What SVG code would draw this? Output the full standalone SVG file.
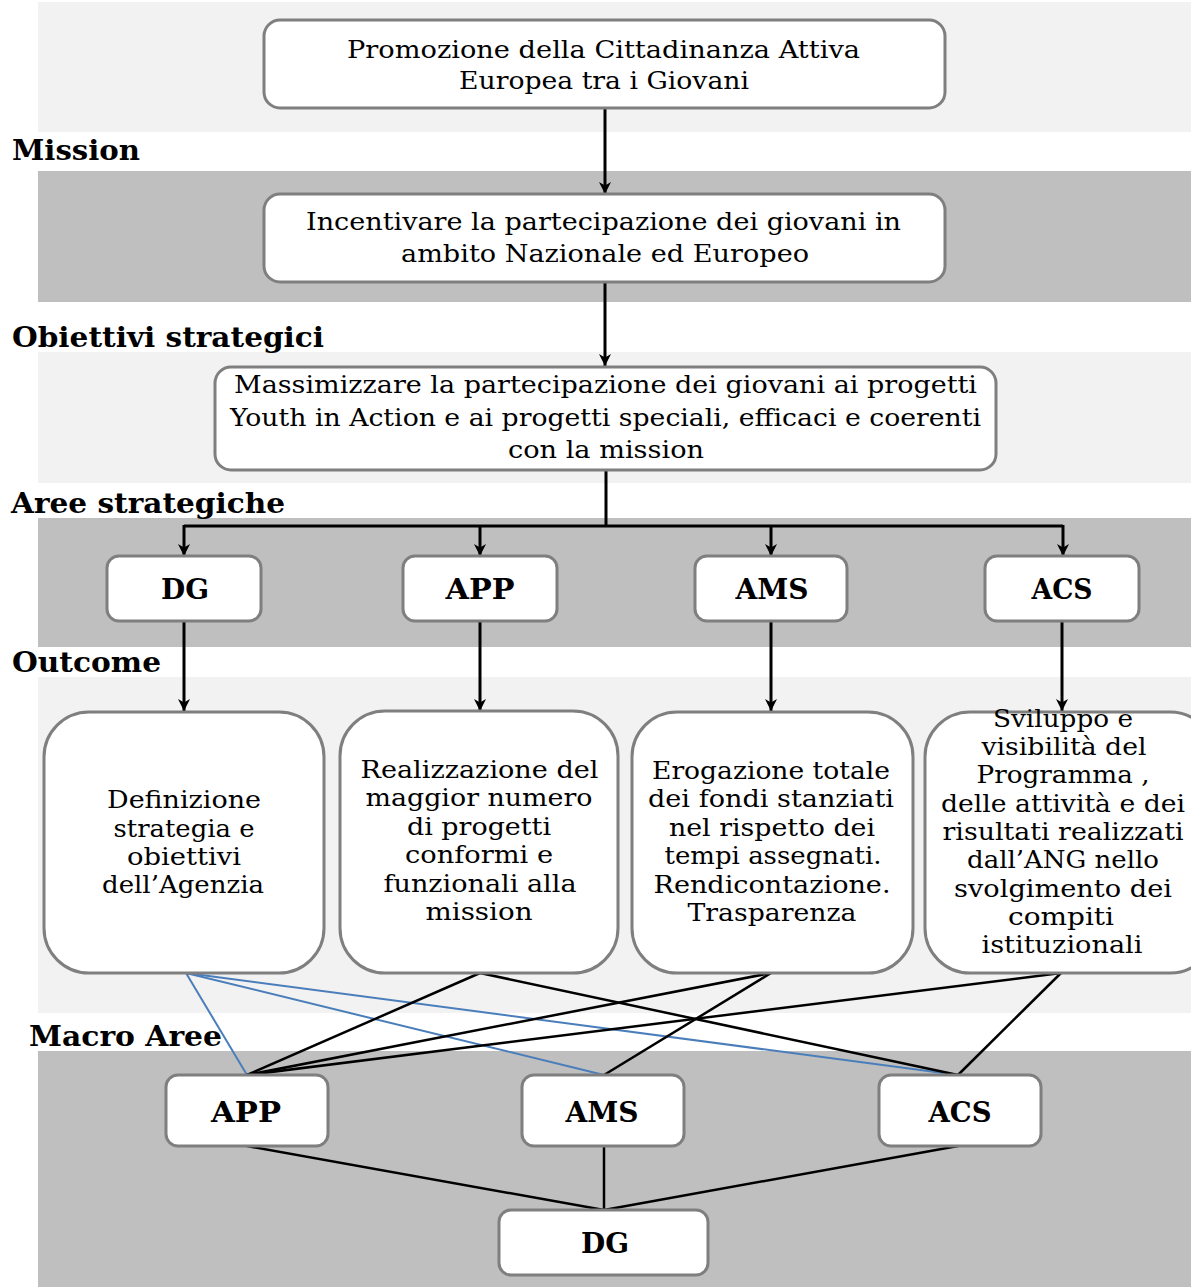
<svg xmlns="http://www.w3.org/2000/svg" width="1191" height="1287" viewBox="0 0 1191 1287">
<style>
.bandL{fill:#f2f2f2}
.bandD{fill:#bfbfbf}
.box{fill:#ffffff;stroke:#7f7f7f;stroke-width:3}
text{lengthAdjust:spacingAndGlyphs}
.lbl{font-family:"DejaVu Serif","Liberation Serif",serif;font-weight:bold;font-size:28px;fill:#000}
.t{font-family:"DejaVu Serif","Liberation Serif",serif;font-size:24px;fill:#000;text-anchor:middle}
.tt{font-family:"DejaVu Serif","Liberation Serif",serif;font-size:25px;fill:#000;text-anchor:middle}
.b{font-family:"DejaVu Serif","Liberation Serif",serif;font-weight:bold;font-size:27px;fill:#000;text-anchor:middle}
.arr{stroke:#000;stroke-width:3;fill:none;marker-end:url(#ah)}
.ln{stroke:#000;stroke-width:2.5;fill:none}
.bl{stroke:#4a7ebb;stroke-width:2;fill:none}
</style>
<defs>
<marker id="ah" viewBox="0 0 10 10" markerWidth="12" markerHeight="12" markerUnits="userSpaceOnUse" refX="10" refY="5" orient="auto">
<path d="M0,0 L10,5 L0,10 L3,5 z" fill="#000"/>
</marker>
</defs>
<rect width="1191" height="1287" fill="#ffffff"/>
<g id="bands">
<rect class="bandL" x="38" y="2" width="1153" height="130"/>
<rect class="bandD" x="38" y="171" width="1153" height="131"/>
<rect class="bandL" x="38" y="352" width="1153" height="131"/>
<rect class="bandD" x="38" y="518" width="1153" height="129"/>
<rect class="bandL" x="38" y="677" width="1153" height="336"/>
<rect class="bandD" x="38" y="1051" width="1153" height="236"/>
</g>
<g id="labels">
<text class="lbl" x="12" y="160" textLength="128" lengthAdjust="spacingAndGlyphs">Mission</text>
<text class="lbl" x="12" y="347" textLength="312" lengthAdjust="spacingAndGlyphs">Obiettivi strategici</text>
<text class="lbl" x="11" y="513" textLength="274" lengthAdjust="spacingAndGlyphs">Aree strategiche</text>
<text class="lbl" x="12" y="672" textLength="149" lengthAdjust="spacingAndGlyphs">Outcome</text>
<text class="lbl" x="29" y="1046" textLength="193" lengthAdjust="spacingAndGlyphs">Macro Aree</text>
</g>
<g id="connectors">
<line class="arr" x1="605" y1="108" x2="605" y2="194"/>
<line class="arr" x1="605" y1="282" x2="605" y2="366"/>
<polyline class="ln" style="stroke-width:3" points="606,470 606,527"/>
<line class="ln" style="stroke-width:3" x1="184" y1="526" x2="1063" y2="526"/>
<line class="arr" x1="184" y1="525" x2="184" y2="556"/>
<line class="arr" x1="480" y1="525" x2="480" y2="556"/>
<line class="arr" x1="771" y1="525" x2="771" y2="556"/>
<line class="arr" x1="1063" y1="525" x2="1063" y2="556"/>
<line class="arr" x1="184" y1="621" x2="184" y2="711"/>
<line class="arr" x1="480" y1="621" x2="480" y2="711"/>
<line class="arr" x1="771" y1="621" x2="771" y2="711"/>
<line class="arr" x1="1062" y1="621" x2="1062" y2="711"/>
<line class="bl" x1="186" y1="973" x2="247" y2="1075"/>
<line class="bl" x1="186" y1="973" x2="604" y2="1075"/>
<line class="bl" x1="186" y1="973" x2="958" y2="1075"/>
<line class="ln" x1="480" y1="973" x2="247" y2="1075"/>
<line class="ln" x1="480" y1="973" x2="958" y2="1075"/>
<line class="ln" x1="771" y1="973" x2="247" y2="1075"/>
<line class="ln" x1="771" y1="973" x2="604" y2="1075"/>
<line class="ln" x1="1061" y1="973" x2="247" y2="1075"/>
<line class="ln" x1="1061" y1="973" x2="958" y2="1075"/>
<line class="ln" x1="247" y1="1146" x2="604" y2="1210"/>
<line class="ln" x1="604" y1="1146" x2="604" y2="1210"/>
<line class="ln" x1="958" y1="1146" x2="604" y2="1210"/>
</g>
<g id="n-vision">
<rect class="box" x="264" y="20" width="681" height="88" rx="16"/>
<text class="tt" x="603.5" y="58" textLength="513" lengthAdjust="spacingAndGlyphs">Promozione della Cittadinanza Attiva</text>
<text class="tt" x="604" y="89" textLength="290" lengthAdjust="spacingAndGlyphs">Europea tra i Giovani</text>
</g>
<g id="n-mission">
<rect class="box" x="264" y="194" width="681" height="88" rx="16"/>
<text class="tt" x="603.5" y="230" textLength="595" lengthAdjust="spacingAndGlyphs">Incentivare la partecipazione dei giovani in</text>
<text class="tt" x="605" y="262" textLength="408" lengthAdjust="spacingAndGlyphs">ambito Nazionale ed Europeo</text>
</g>
<g id="n-obiettivi">
<rect class="box" x="215" y="367" width="781" height="103" rx="16"/>
<text class="tt" x="605.5" y="393" textLength="743" lengthAdjust="spacingAndGlyphs">Massimizzare la partecipazione dei giovani ai progetti</text>
<text class="tt" x="605.5" y="426" textLength="751" lengthAdjust="spacingAndGlyphs">Youth in Action e ai progetti speciali, efficaci e coerenti</text>
<text class="tt" x="606" y="458" textLength="196" lengthAdjust="spacingAndGlyphs">con la mission</text>
</g>
<g id="a-dg">
<rect class="box" x="107" y="556" width="154" height="65" rx="12"/>
<text class="b" x="185" y="599" textLength="48" lengthAdjust="spacingAndGlyphs">DG</text>
</g>
<g id="a-app">
<rect class="box" x="403" y="556" width="154" height="65" rx="12"/>
<text class="b" x="480" y="599" textLength="69" lengthAdjust="spacingAndGlyphs">APP</text>
</g>
<g id="a-ams">
<rect class="box" x="695" y="556" width="152" height="65" rx="12"/>
<text class="b" x="772" y="599" textLength="73" lengthAdjust="spacingAndGlyphs">AMS</text>
</g>
<g id="a-acs">
<rect class="box" x="985" y="556" width="154" height="65" rx="12"/>
<text class="b" x="1062" y="599" textLength="61" lengthAdjust="spacingAndGlyphs">ACS</text>
</g>
<g id="o-dg">
<rect class="box" x="44" y="712" width="280" height="261" rx="45"/>
<text class="t" x="184" y="808" textLength="154" lengthAdjust="spacingAndGlyphs">Definizione</text>
<text class="t" x="184" y="837" textLength="141" lengthAdjust="spacingAndGlyphs">strategia e</text>
<text class="t" x="184" y="865" textLength="114" lengthAdjust="spacingAndGlyphs">obiettivi</text>
<text class="t" x="183" y="893" textLength="162" lengthAdjust="spacingAndGlyphs">dell’Agenzia</text>
</g>
<g id="o-app">
<rect class="box" x="340" y="711" width="278" height="262" rx="45"/>
<text class="t" x="479.5" y="778" textLength="238" lengthAdjust="spacingAndGlyphs">Realizzazione del</text>
<text class="t" x="479" y="806" textLength="227" lengthAdjust="spacingAndGlyphs">maggior numero</text>
<text class="t" x="479" y="835" textLength="144" lengthAdjust="spacingAndGlyphs">di progetti</text>
<text class="t" x="479" y="863" textLength="148" lengthAdjust="spacingAndGlyphs">conformi e</text>
<text class="t" x="480" y="892" textLength="193" lengthAdjust="spacingAndGlyphs">funzionali alla</text>
<text class="t" x="479" y="920" textLength="107" lengthAdjust="spacingAndGlyphs">mission</text>
</g>
<g id="o-ams">
<rect class="box" x="632" y="712" width="281" height="261" rx="45"/>
<text class="t" x="771" y="779" textLength="238" lengthAdjust="spacingAndGlyphs">Erogazione totale</text>
<text class="t" x="771" y="807" textLength="246" lengthAdjust="spacingAndGlyphs">dei fondi stanziati</text>
<text class="t" x="772" y="836" textLength="206" lengthAdjust="spacingAndGlyphs">nel rispetto dei</text>
<text class="t" x="773" y="864" textLength="217" lengthAdjust="spacingAndGlyphs">tempi assegnati.</text>
<text class="t" x="772" y="893" textLength="237" lengthAdjust="spacingAndGlyphs">Rendicontazione.</text>
<text class="t" x="772" y="921" textLength="169" lengthAdjust="spacingAndGlyphs">Trasparenza</text>
</g>
<g id="o-acs">
<rect class="box" x="925" y="712" width="290" height="261" rx="45"/>
<text class="t" x="1063" y="727" textLength="140" lengthAdjust="spacingAndGlyphs">Sviluppo e</text>
<text class="t" x="1064" y="755" textLength="165" lengthAdjust="spacingAndGlyphs">visibilità del</text>
<text class="t" x="1063" y="783" textLength="173" lengthAdjust="spacingAndGlyphs">Programma ,</text>
<text class="t" x="1063" y="812" textLength="244" lengthAdjust="spacingAndGlyphs">delle attività e dei</text>
<text class="t" x="1063" y="840" textLength="241" lengthAdjust="spacingAndGlyphs">risultati realizzati</text>
<text class="t" x="1063" y="868" textLength="192" lengthAdjust="spacingAndGlyphs">dall’ANG nello</text>
<text class="t" x="1063" y="897" textLength="218" lengthAdjust="spacingAndGlyphs">svolgimento dei</text>
<text class="t" x="1061" y="925" textLength="106" lengthAdjust="spacingAndGlyphs">compiti</text>
<text class="t" x="1062" y="953" textLength="161" lengthAdjust="spacingAndGlyphs">istituzionali</text>
</g>
<g id="m-app">
<rect class="box" x="166" y="1075" width="162" height="71" rx="12"/>
<text class="b" x="246" y="1122" textLength="70" lengthAdjust="spacingAndGlyphs">APP</text>
</g>
<g id="m-ams">
<rect class="box" x="522" y="1075" width="162" height="71" rx="12"/>
<text class="b" x="602" y="1122" textLength="73" lengthAdjust="spacingAndGlyphs">AMS</text>
</g>
<g id="m-acs">
<rect class="box" x="879" y="1075" width="162" height="71" rx="12"/>
<text class="b" x="960" y="1122" textLength="63" lengthAdjust="spacingAndGlyphs">ACS</text>
</g>
<g id="m-dg">
<rect class="box" x="499" y="1210" width="209" height="65" rx="12"/>
<text class="b" x="605" y="1253" textLength="48" lengthAdjust="spacingAndGlyphs">DG</text>
</g>
</svg>
